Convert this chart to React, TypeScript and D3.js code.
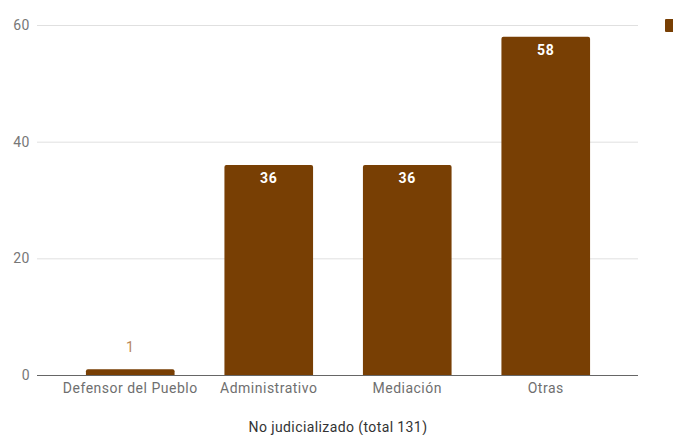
import React from "react";
import * as d3 from "d3";

const categories = ["Defensor del Pueblo", "Administrativo", "Mediación", "Otras"];
const values = [1, 36, 36, 58];
const yTicks = [0, 20, 40, 60];
const axisTitle = "No judicializado (total 131)";

const W = 673;
const H = 435;
const BAR = "#783f04";
const FONT = "Roboto, 'Noto Sans', sans-serif";

export default function App() {
  const y = d3.scaleLinear().domain([0, 60]).range([375, 25]);
  const x = d3
    .scaleBand<string>()
    .domain(categories)
    .range([61, 615])
    .paddingInner(0.36)
    .paddingOuter(0.18);

  const gridX0 = 37;
  const gridX1 = 638;

  return (
    <svg
      width={W}
      height={H}
      style={{ position: "absolute", left: 0, top: 0, background: "#fff" }}
      fontFamily={FONT}
    >
      {/* gridlines and y tick labels */}
      {yTicks.map((t) => (
        <g key={t}>
          {t !== 0 && (
            <line x1={gridX0} x2={gridX1} y1={y(t) + 0.5} y2={y(t) + 0.5} stroke="#e0e0e0" strokeWidth={1} />
          )}
          <text x={30} y={y(t)} dy="0.35em" textAnchor="end" fontSize={14} letterSpacing={0.5} fill="#777">
            {t}
          </text>
        </g>
      ))}

      {/* bars */}
      {categories.map((c, i) => {
        const v = values[i];
        const bx = x(c)!;
        const bw = x.bandwidth();
        const top = y(v);
        const h = y(0) - top;
        const inside = h > 20;
        return (
          <g key={c}>
            <path
              d={`M${bx},${y(0)} V${top + 2} Q${bx},${top} ${bx + 2},${top} H${bx + bw - 2} Q${bx + bw},${top} ${bx + bw},${top + 2} V${y(0)} Z`}
              fill={BAR}
            />
            <text
              x={bx + bw / 2}
              y={inside ? top + 18 : top - 17}
              textAnchor="middle"
              fontSize={14}
              letterSpacing={0.6}
              fontWeight={inside ? "bold" : "normal"}
              fill={inside ? "#fff" : "#b9875a"}
            >
              {v}
            </text>
            <text x={bx + bw / 2} y={393} textAnchor="middle" fontSize={14} letterSpacing={0.5} fill="#6f6f6f">
              {c}
            </text>
          </g>
        );
      })}

      {/* baseline */}
      <line x1={gridX0} x2={gridX1} y1={y(0) + 0.5} y2={y(0) + 0.5} stroke="#666" strokeWidth={1} />

      {/* axis title */}
      <text x={338} y={432} textAnchor="middle" fontSize={14} letterSpacing={0.4} fill="#333">
        {axisTitle}
      </text>

      {/* legend marker, label off canvas */}
      <rect x={665} y={19} width={12} height={13} fill={BAR} rx={1} />
    </svg>
  );
}
